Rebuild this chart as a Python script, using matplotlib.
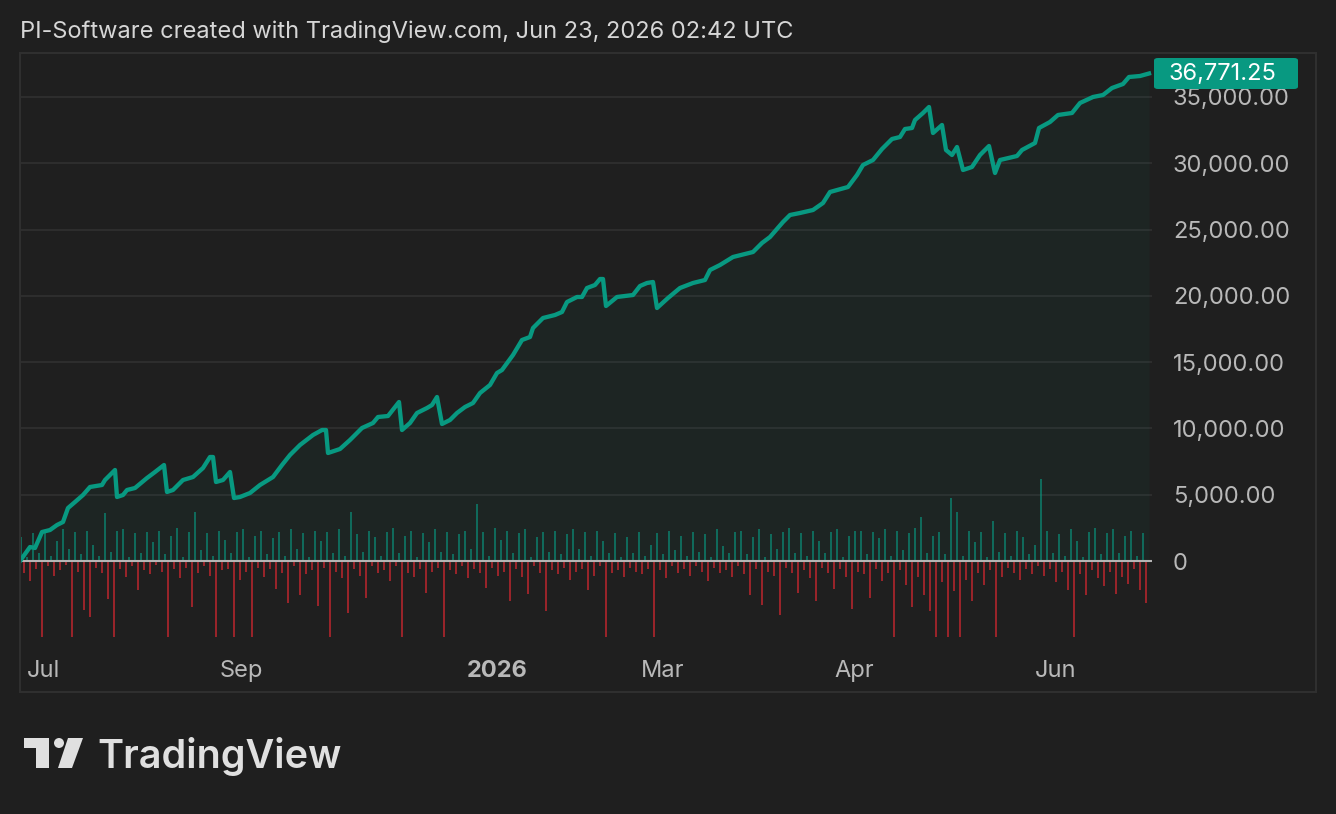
import numpy as np
import matplotlib
matplotlib.use("Agg")
import matplotlib.pyplot as plt
from matplotlib.patches import Polygon, Ellipse, Rectangle, FancyBboxPatch
from matplotlib.ticker import FuncFormatter

W, H = 1336, 814
BG = "#1f1f1f"
TEAL = "#089981"
RED = "#c2262f"

# equity curve (x = bar index, y = equity)
trade_idx = [0, 10, 15, 22, 30, 37, 43, 48, 55, 63, 70, 82, 85, 95, 97, 103, 107, 115,
             127, 135, 144, 147, 153, 163, 173, 183, 190, 193, 196, 203, 210, 214, 220,
             230, 240, 253, 262, 270, 280, 293, 302, 306, 308, 320, 330, 342, 353, 358,
             368, 379, 382, 390, 397, 407, 412, 417, 422, 430, 437, 445, 453, 460, 470,
             477, 482, 493, 502, 510, 513, 523, 535, 542, 547, 557, 562, 567, 575, 580,
             583, 586, 597, 613, 620, 627, 633, 637, 648, 660, 673, 685, 690, 700, 713,
             733, 742, 750, 763, 770, 780, 793, 803, 810, 828, 837, 843, 853, 862, 872,
             880, 885, 892, 895, 903, 909, 913, 922, 926, 932, 937, 943, 952, 960, 969,
             975, 980, 997, 1002, 1015, 1019, 1030, 1038, 1052, 1060, 1073, 1083, 1092,
             1103, 1109, 1120, 1129]
equity = [0, 1056, 981, 2187, 2338, 2715, 2942, 3998, 4450, 4978, 5582, 5733, 6110,
          6864, 4828, 4978, 5356, 5506, 6261, 6713, 7241, 5205, 5356, 6110, 6336, 7015,
          7845, 7845, 5959, 6110, 6713, 4752, 4828, 5129, 5733, 6336, 7241, 7996, 8750,
          9504, 9881, 9881, 8146, 8448, 9127, 10032, 10409, 10862, 10937, 11993, 9881,
          10409, 11164, 11541, 11767, 12371, 10334, 10636, 11164, 11616, 11918, 12672,
          13276, 14181, 14407, 15539, 16670, 16896, 17575, 18329, 18556, 18782, 19536,
          19914, 19914, 20592, 20819, 21271, 21271, 19235, 19914, 20064, 20743, 20970,
          21045, 19084, 19838, 20592, 20970, 21196, 21950, 22327, 22931, 23308, 23987,
          24439, 25571, 26099, 26250, 26476, 27004, 27834, 28211, 29116, 29870, 30247,
          31077, 31831, 31982, 32586, 32661, 33265, 33793, 34245, 32284, 32887, 31001,
          30625, 31228, 29494, 29720, 30625, 31303, 29267, 30247, 30549, 31002, 31530,
          32661, 33114, 33642, 33793, 34547, 35000, 35150, 35678, 35980, 36508, 36583,
          36771.25]

# per-trade profit / loss histogram (estimated)
wins = [1800, 300, 2100, 600, 2300, 400, 1500, 2400, 900, 2200,
        500, 2300, 1200, 400, 3600, 700, 2300, 2400, 300, 2100,
        600, 2200, 1400, 2300, 500, 1900, 2500, 300, 2200, 3700,
        800, 2100, 400, 2300, 1600, 600, 2200, 2400, 300, 1900,
        2300, 500, 1700, 2200, 400, 2400, 900, 2100, 300, 2300,
        1500, 2200, 600, 2400, 400, 3700, 2000, 700, 2300, 1800,
        400, 2200, 2500, 600, 1900, 2300, 300, 2100, 1400, 2400,
        700, 2200, 500, 2000, 2300, 900, 4300, 2200, 400, 2500,
        1600, 2300, 600, 2100, 2400, 300, 1800, 2200, 700, 2300,
        500, 2000, 2400, 900, 2200, 400, 2300, 1500, 600, 2100,
        300, 1800, 600, 2200, 400, 1200, 2100, 500, 2300, 800,
        1900, 400, 2200, 700, 2000, 300, 2400, 1100, 600, 2200,
        2300, 500, 1800, 2400, 300, 2000, 900, 2200, 2500, 600,
        2100, 400, 2300, 1500, 600, 2200, 2400, 300, 1900, 2300,
        2300, 500, 2200, 1700, 2400, 400, 2300, 800, 2100, 2500,
        3300, 600, 1900, 2200, 500, 4750, 3700, 400, 2300, 1400,
        2200, 300, 3000, 700, 2100, 400, 2300, 1800, 500, 1200,
        6200, 2300, 600, 2000, 400, 2400, 1500, 300, 2200, 2500,
        500, 2100, 2400, 600, 1900, 2300, 400, 2100]
losses = [-900, -1500, -600, -5730, -400, -1100, -700, -300, -5730, -800,
          -3700, -4200, -500, -900, -2900, -5730, -600, -1200, -400, -2200,
          -700, -1000, -300, -800, -5730, -600, -1300, -500, -3500, -900,
          -400, -1100, -5730, -700, -600, -5730, -1400, -800, -5730, -500,
          -1200, -600, -2100, -900, -3200, -400, -2600, -1000, -700, -3400,
          -500, -5730, -800, -1300, -3900, -600, -1100, -2800, -400, -900,
          -700, -1500, -400, -5730, -900, -1200, -600, -2400, -800, -500,
          -5730, -700, -1000, -400, -1300, -600, -900, -2000, -500, -1100,
          -800, -3000, -600, -1200, -2500, -400, -900, -3800, -700, -1000,
          -500, -1400, -800, -600, -2200, -1100, -400, -5730, -900, -700,
          -1200, -500, -800, -1000, -600, -5730, -700, -1300, -400, -900,
          -600, -1100, -400, -800, -1500, -500, -900, -700, -1200, -400,
          -1000, -2600, -600, -3300, -800, -1100, -4100, -500, -900, -2400,
          -700, -1300, -3000, -500, -900, -2100, -600, -1200, -3600, -800,
          -1000, -2800, -600, -1500, -900, -5730, -700, -1800, -3500, -1200,
          -2600, -3800, -5730, -1600, -5730, -2300, -5730, -1400, -3000, -900,
          -1800, -700, -5730, -1200, -500, -900, -1400, -600, -1000, -400,
          -1100, -600, -1600, -800, -2200, -5730, -1000, -2600, -700, -1300,
          -1900, -800, -2500, -1200, -1700, -600, -2200, -3200]

tick_pos = [23, 221, 477, 643, 834, 1036]
tick_labels = ["Jul", "Sep", "2026", "Mar", "Apr", "Jun"]
y_ticks = [0, 5000, 10000, 15000, 20000, 25000, 30000, 35000]
title = "PI-Software created with TradingView.com, Jun 23, 2026 02:42 UTC"
last_value = equity[-1]

plt.rcParams["font.family"] = ["Inter", "DejaVu Sans"]
FS = 17


def fx(x):
    return x / W


def fy(y):
    return 1 - y / H


fig = plt.figure(figsize=(W / 100, H / 100), dpi=100, facecolor=BG)
ax = fig.add_axes([fx(20), fy(650), fx(1152) - fx(20), fy(53) - fy(650)])
ax.set_facecolor(BG)

win_x = np.arange(len(wins)) * 6 + 1
loss_x = np.arange(len(losses)) * 6 + 4
ax.bar(win_x, wins, width=2.4, color=TEAL, alpha=0.6, lw=0, zorder=2)
ax.bar(loss_x, losses, width=2.4, color=RED, alpha=0.75, lw=0, zorder=2)

ax.fill_between(trade_idx, equity, 0, color=TEAL, alpha=0.05, lw=0, zorder=1)
ax.plot(trade_idx, equity, color=TEAL, lw=3.1, solid_joinstyle="round", zorder=4)
ax.axhline(0, color="#b5b5b5", lw=1.5, zorder=3)

for v in y_ticks[1:]:
    ax.axhline(v, color="#2e2e2e", lw=1.4, zorder=0)

ax.set_xlim(0, 1132)
ax.set_ylim(-6713, 38318)
for s in ax.spines.values():
    s.set_visible(False)

ax.yaxis.tick_right()
ax.set_yticks(y_ticks)
ax.yaxis.set_major_formatter(FuncFormatter(lambda v, p: "0" if v == 0 else f"{v:,.2f}"))
ax.tick_params(axis="y", length=0, pad=15, labelsize=FS, labelcolor="#b8b8b8")
ax.set_xticks(tick_pos)
ax.set_xticklabels(tick_labels)
ax.tick_params(axis="x", length=0, pad=7, labelsize=FS, labelcolor="#b8b8b8")
ax.get_xticklabels()[2].set_fontweight("bold")

# outer frame
fig.patches.append(Rectangle((fx(20), fy(692)), fx(1316) - fx(20), fy(53) - fy(692),
                             transform=fig.transFigure, fill=False,
                             edgecolor="#2f2f2f", lw=1.5))

# last value tag
fig.patches.append(FancyBboxPatch((fx(1154), fy(89)), fx(1298) - fx(1154), fy(58) - fy(89),
                                  boxstyle="round,pad=0,rounding_size=0.003",
                                  transform=fig.transFigure, facecolor=TEAL, lw=0))
fig.text(fx(1169), fy(74), f"{last_value:,.2f}", color="white", fontsize=FS,
         va="center", ha="left")

fig.text(fx(20), fy(32), title, color="#d6d6d6", fontsize=FS, va="center", ha="left")

# TradingView logo
logo_c = "#e0e0e0"
fig.patches.append(Polygon([(fx(24), fy(738)), (fx(49), fy(738)), (fx(49), fy(768)),
                            (fx(36), fy(768)), (fx(36), fy(748)), (fx(24), fy(748))],
                           closed=True, transform=fig.transFigure, facecolor=logo_c, lw=0))
fig.patches.append(Ellipse((fx(59), fy(743)), 10 / W, 10 / H,
                           transform=fig.transFigure, facecolor=logo_c, lw=0))
fig.patches.append(Polygon([(fx(68), fy(738)), (fx(83), fy(738)), (fx(72), fy(768)),
                            (fx(58), fy(768))],
                           closed=True, transform=fig.transFigure, facecolor=logo_c, lw=0))
fig.text(fx(97), fy(768), "TradingView", color=logo_c, fontsize=28.5, fontweight="semibold",
         va="baseline", ha="left")

fig.savefig("out.png", dpi=100, facecolor=BG)
